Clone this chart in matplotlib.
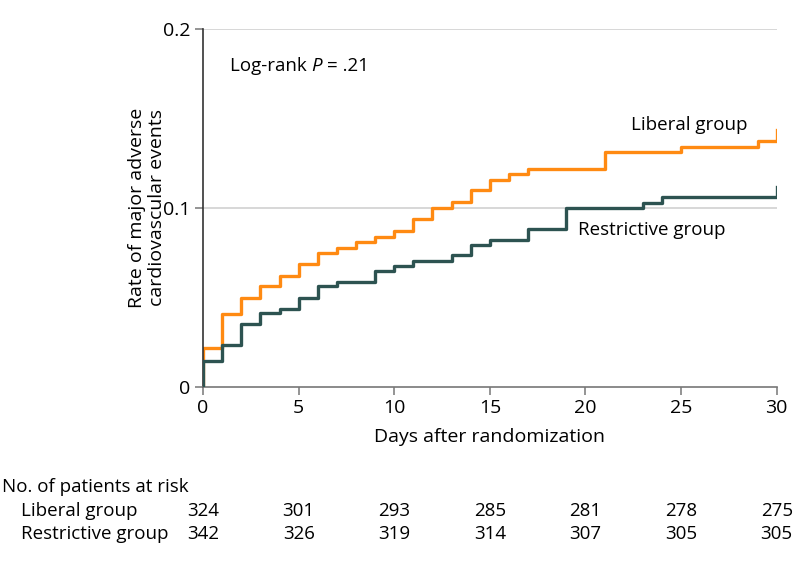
import matplotlib.pyplot as plt

plt.rcParams['font.family'] = ['Open Sans', 'DejaVu Sans']

# Kaplan-Meier style cumulative event rates
lib_days = [0, 0, 1, 2, 3, 4, 5, 6, 7, 8, 9, 10, 11, 12, 13, 14, 15, 16, 17, 21, 25, 29, 30, 30]
lib_rate = [0, 0.0215, 0.0406, 0.0495, 0.056, 0.062, 0.0685, 0.0748, 0.0777, 0.0808, 0.0837,
            0.0871, 0.0935, 0.0998, 0.103, 0.1097, 0.1153, 0.119, 0.1216, 0.131, 0.134,
            0.1374, 0.1374, 0.1436]

res_days = [0, 0, 1, 2, 3, 4, 5, 6, 7, 9, 10, 11, 13, 14, 15, 17, 19, 23, 24, 30, 30]
res_rate = [0, 0.0143, 0.0233, 0.0352, 0.0411, 0.0436, 0.0495, 0.056, 0.0587, 0.0648, 0.0676,
            0.0704, 0.0734, 0.0793, 0.0821, 0.0883, 0.0998, 0.1028, 0.1058, 0.1058, 0.1116]

risk_days = [0, 5, 10, 15, 20, 25, 30]
lib_risk = [324, 301, 293, 285, 281, 278, 275]
res_risk = [342, 326, 319, 314, 307, 305, 305]

orange = '#FF8A12'
teal = '#2D5351'
fs = 13.5

fig = plt.figure(figsize=(7.94, 5.63), dpi=100)
ax = fig.add_axes([0.2557, 0.3131, 0.7225, 0.6359])

for y in [0.1, 0.2]:
    ax.axhline(y, color='#d4d4d4', lw=1.3, zorder=1)

ax.step(res_days, res_rate, where='post', color=teal, lw=2.4, zorder=3)
ax.step(lib_days, lib_rate, where='post', color=orange, lw=2.4, zorder=2)

ax.set_xlim(0, 30)
ax.set_ylim(0, 0.2)
ax.set_xticks(risk_days)
ax.set_yticks([0, 0.1, 0.2])
ax.set_yticklabels(['0', '0.1', '0.2'])

for s in ['top', 'right']:
    ax.spines[s].set_visible(False)
ax.spines['left'].set_color('#333333')
ax.spines['bottom'].set_color('#777777')
ax.spines['left'].set_linewidth(1.2)
ax.spines['bottom'].set_linewidth(1.2)
ax.tick_params(axis='both', labelsize=fs + 0.5, color='#777777', length=6, width=1.1, pad=3)

ax.set_xlabel('Days after randomization', fontsize=fs + 0.5, labelpad=8)
ax.set_ylabel('Rate of major adverse\ncardiovascular events', fontsize=fs + 0.5, linespacing=1.1)
ax.yaxis.set_label_coords(-0.065, 0.5)

# Log-rank annotation with italic P
t = ax.text(1.4, 0.179, 'Log-rank ', fontsize=fs, va='center', ha='left')
fig.canvas.draw()
inv = ax.transData.inverted()
x_p = inv.transform((t.get_window_extent().x1, 0))[0]
p = ax.text(x_p, 0.179, 'P', fontsize=fs, style='italic', va='center', ha='left')
fig.canvas.draw()
x_eq = inv.transform((p.get_window_extent().x1 + 5, 0))[0]
ax.text(x_eq, 0.179, '= .21', fontsize=fs, va='center', ha='left')

ax.text(22.4, 0.146, 'Liberal group', fontsize=fs, va='center', ha='left')
ax.text(19.6, 0.0875, 'Restrictive group', fontsize=fs, va='center', ha='left')

# numbers at risk table
fig.text(0.002, 1 - 487 / 563, 'No. of patients at risk', fontsize=fs, va='center', ha='left')
fig.text(0.027, 1 - 511 / 563, 'Liberal group', fontsize=fs, va='center', ha='left')
fig.text(0.027, 1 - 534 / 563, 'Restrictive group', fontsize=fs, va='center', ha='left')
for d, a, b in zip(risk_days, lib_risk, res_risk):
    xf = fig.transFigure.inverted().transform(ax.transData.transform((d, 0)))[0]
    fig.text(xf, 1 - 511 / 563, str(a), fontsize=fs, va='center', ha='center')
    fig.text(xf, 1 - 534 / 563, str(b), fontsize=fs, va='center', ha='center')

fig.savefig('out.png', dpi=100)
